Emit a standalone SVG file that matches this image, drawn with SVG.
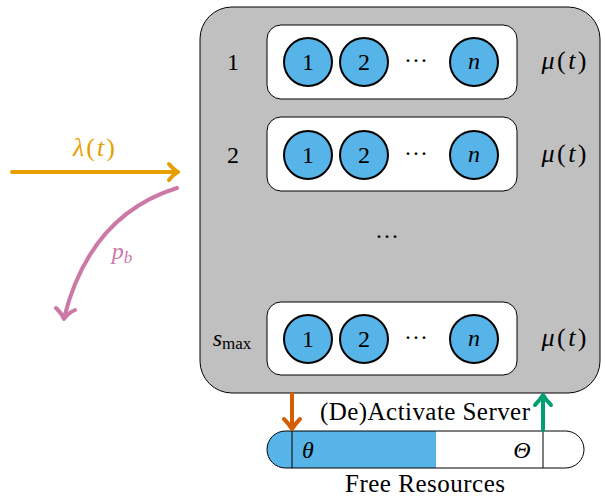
<svg xmlns="http://www.w3.org/2000/svg" width="605" height="497" viewBox="0 0 605 497" font-family="'Liberation Serif', 'Times New Roman', serif">
<defs>
<style>
text{font-family:'Liberation Serif','Times New Roman',serif;font-size:24px;fill:#000;text-anchor:middle}
.m{font-style:italic}
.mu{font-size:26px}
.lab{font-size:25px}
.row{fill:#fff;stroke:#000;stroke-width:1}
.c{fill:#56B4E9;stroke:#000;stroke-width:2}
.arr{fill:none;stroke-width:4;stroke-linecap:round;stroke-linejoin:round}
</style>
<clipPath id="bc"><rect x="267" y="431" width="317" height="37" rx="18.5"/></clipPath>
</defs>
<g id="system">
<rect x="200" y="7" width="400" height="386" rx="32" fill="#c0c0c0" stroke="#000" stroke-width="1"/>
<text x="387" y="244" textLength="24">· · ·</text>
</g>
<g id="row1">
<text x="233" y="70">1</text>
<rect class="row" x="267" y="25" width="250" height="74" rx="14"/>
<circle class="c" cx="308" cy="62" r="24"/><text x="308" y="70">1</text>
<circle class="c" cx="364" cy="62" r="24"/><text x="364" y="70">2</text>
<text x="416" y="68" textLength="24">· · ·</text>
<circle class="c" cx="474" cy="62" r="24"/><text class="m" x="474" y="69">n</text>
<text class="mu" x="564" y="69" textLength="45"><tspan class="m">μ</tspan>(<tspan class="m">t</tspan>)</text>
</g>
<g id="row2">
<text x="233" y="163">2</text>
<rect class="row" x="267" y="117" width="250" height="74" rx="14"/>
<circle class="c" cx="308" cy="155" r="24"/><text x="308" y="163">1</text>
<circle class="c" cx="364" cy="155" r="24"/><text x="364" y="163">2</text>
<text x="416" y="161" textLength="24">· · ·</text>
<circle class="c" cx="474" cy="155" r="24"/><text class="m" x="474" y="162">n</text>
<text class="mu" x="564" y="162" textLength="45"><tspan class="m">μ</tspan>(<tspan class="m">t</tspan>)</text>
</g>
<g id="rowmax">
<text x="232" y="346"><tspan class="m">s</tspan><tspan font-size="17" dy="3">max</tspan></text>
<rect class="row" x="267" y="302" width="250" height="73" rx="14"/>
<circle class="c" cx="308" cy="339" r="24"/><text x="308" y="347">1</text>
<circle class="c" cx="364" cy="339" r="24"/><text x="364" y="347">2</text>
<text x="416" y="345" textLength="24">· · ·</text>
<circle class="c" cx="474" cy="339" r="24"/><text class="m" x="474" y="346">n</text>
<text class="mu" x="564" y="346" textLength="45"><tspan class="m">μ</tspan>(<tspan class="m">t</tspan>)</text>
</g>
<g id="resources">
<rect x="267" y="431" width="169" height="37" fill="#56B4E9" clip-path="url(#bc)"/>
<rect x="267" y="431" width="317" height="37" rx="18.5" fill="none" stroke="#000" stroke-width="1"/>
<line x1="292" y1="431" x2="292" y2="468" stroke="#000" stroke-width="1"/>
<line x1="543" y1="431" x2="543" y2="468" stroke="#000" stroke-width="1"/>
<text class="m" x="308" y="458">θ</text>
<text class="m" x="522" y="458">Θ</text>
<text class="lab" x="425" y="492" textLength="160">Free Resources</text>
<text class="lab" x="425" y="420" textLength="210">(De)Activate Server</text>
</g>
<g id="connectors">
<path class="arr" stroke="#E69F00" d="M12,172 H177 M169,164 Q174,170 178,172 Q174,174 169,180"/>
<text class="mu" x="94" y="156" textLength="42" style="fill:#E69F00"><tspan class="m">λ</tspan>(<tspan class="m">t</tspan>)</text>
<path class="arr" stroke="#CC79A7" d="M177,188 Q90,215 64,318 M56,308 Q62,314 64,319 Q68,313 75,310"/>
<text x="122" y="259" style="fill:#CC79A7"><tspan class="m">p</tspan><tspan class="m" font-size="17" dy="4">b</tspan></text>
<path class="arr" stroke="#D55E00" d="M292,394 V428 M284,419 Q289,424 292,429 Q295,424 300,419"/>
<path class="arr" stroke="#009E73" d="M543,430 V396 M535,405 Q540,400 543,395 Q546,400 551,405"/>
</g>
</svg>
